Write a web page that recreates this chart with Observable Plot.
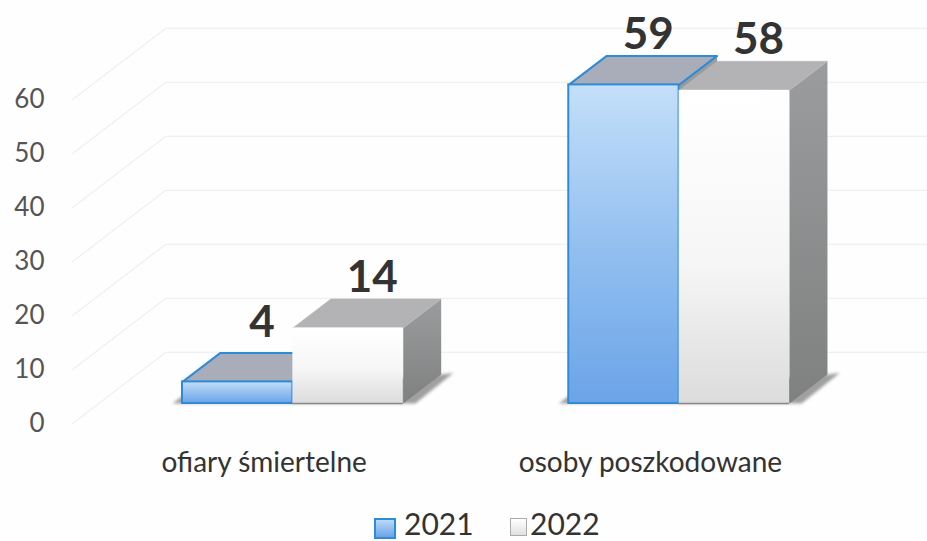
<!DOCTYPE html>
<html><head><meta charset="utf-8">
<script src="https://cdn.jsdelivr.net/npm/d3@7"></script>
<script src="https://cdn.jsdelivr.net/npm/@observablehq/plot@0.6"></script>
<style>
html,body{margin:0;padding:0;background:#fefefe;overflow:hidden}
#legend{font:30px Lato,sans-serif;color:#333;position:absolute;top:505px;left:0;width:927px;height:36px}
.sw{position:absolute;top:13px;width:22px;height:21px;box-sizing:border-box}
.lb{position:absolute;top:0;line-height:36px;height:36px}
</style></head><body>
<div id="chart"></div>
<div id="legend"></div>
<script>
const categories = ["ofiary śmiertelne", "osoby poszkodowane"];
const years = ["2021", "2022"];
const values2021 = [4, 59];
const values2022 = [14, 58];
const axisTicks = [0, 10, 20, 30, 40, 50, 60];

const step = 3.5, depthX = 0.344, depthY = 5.37;
const wallX0 = -0.995, wallX1 = -0.154, wallEnd = 6.8, wallY0 = -3.7, wallY1 = 9.45;
const rows = categories.flatMap((c, i) => [
  {c, i, s: 0, year: years[0], value: values2021[i], x1: i * step, x2: i * step + 1},
  {c, i, s: 1, year: years[1], value: values2022[i], x1: i * step + 1, x2: i * step + 2}
]);
const tops = d3.sort(rows, d => d.i, d => d.value);
const wall = axisTicks.flatMap(v => [
  {v, x: wallX0, y: v + wallY0}, {v, x: wallX1, y: v + wallY1}, {v, x: wallEnd, y: v + wallY1}
]);
const sideVerts = rows.flatMap(d => [[d.x2, 0], [d.x2, d.value], [d.x2 + depthX, d.value + depthY], [d.x2 + depthX, depthY]]
  .map(([x, y]) => ({k: d.c + d.year, x, y})));
const topVerts = d => [[d.x1, d.value], [d.x1 + depthX, d.value + depthY], [d.x2 + depthX, d.value + depthY], [d.x2, d.value], [d.x1, d.value]]
  .map(([x, y]) => ({x, y}));
const shadowVerts = categories.flatMap((c, i) => {
  const a = i * step, b = a + 2;
  return [[a - 0.09, 0], [a, 1.4], [b + depthX, depthY], [b + depthX + 0.11, depthY + 0.3], [b + 0.11, 0]].map(([x, y]) => ({c, x, y}));
});

const defs = (index, scales, values, dims, ctx) => {
  const g = d3.select(ctx.document.createElementNS("http://www.w3.org/2000/svg", "defs"));
  const grad = (id, stops) => {
    const l = g.append("linearGradient").attr("id", id).attr("x1", 0).attr("x2", 0).attr("y1", 0).attr("y2", 1);
    stops.forEach(([o, c]) => l.append("stop").attr("offset", o).attr("stop-color", c));
  };
  grad("g21", [[0, "#c4dff9"], [0.5, "#94c0f0"], [1, "#6ba4e8"]]);
  grad("g22", [[0, "#ffffff"], [0.55, "#f6f6f6"], [1, "#dcdcdc"]]);
  grad("side", [[0, "#9b9c9d"], [1, "#7f8080"]]);
  return g.node();
};

const plot = Plot.plot({
  width: 927, height: 505,
  marginLeft: 182, marginRight: 137, marginTop: 25, marginBottom: 102,
  x: {domain: [0, 5.5], range: [182, 789], axis: null},
  y: {domain: [0, 70], range: [403, 25], axis: null},
  style: {background: "transparent", fontFamily: "Lato, sans-serif", overflow: "visible"},
  marks: [
    defs,
    Plot.line(wall, {x: "x", y: "y", z: "v", stroke: "#f0f0f0", strokeWidth: 1.3}),
    Plot.line(shadowVerts, {x: "x", y: "y", z: "c", fill: "#a0a0a0", imageFilter: "blur(1.5px)"}),
    Plot.line(sideVerts, {x: "x", y: "y", z: "k", fill: "url(#side)"}),
    ...tops.map(d => Plot.line(topVerts(d), {
      x: "x", y: "y",
      fill: d.s === 0 ? "#a9adb9" : "#b3b3b5",
      stroke: d.s === 0 ? "#2e8bd8" : "#b3b3b5",
      strokeWidth: d.s === 0 ? 2 : 0.5
    })),
    Plot.rect(rows.filter(d => d.s === 0), {x1: "x1", x2: "x2", y1: 0, y2: "value", fill: "url(#g21)", stroke: "#2e8bd8", strokeWidth: 2}),
    Plot.rect(rows.filter(d => d.s === 1), {x1: "x1", x2: "x2", y1: 0, y2: "value", fill: "url(#g22)"}),
    Plot.ruleY(rows.filter(d => d.s === 1), {x1: "x1", x2: "x2", y: 0, stroke: "#8a8a8a", strokeWidth: 1.5}),
    Plot.axisY({ticks: axisTicks, anchor: "left", tickSize: 0, tickPadding: 0, label: null,
      tickFormat: d => String(d), dx: -138, dy: 20, fontSize: 26, color: "#555555"}),
    Plot.text(categories.map((c, i) => ({c, x: i * step + 0.74})), {
      x: "x", y: 0, text: "c", dy: 60, fontSize: 28, fill: "#333333"}),
    Plot.text(rows.filter(d => d.value !== 4), {
      x: d => d.x1 + 0.5 + 0.22, y: d => d.value + depthY, text: "value", dy: -21,
      fontSize: 44, fontWeight: 700, fill: "#333333"}),
    Plot.text(rows.filter(d => d.value === 4), {
      x: d => d.x1 + 0.5 + 0.22, y: d => d.value + depthY, text: "value", dy: -30,
      fontSize: 44, fontWeight: 700, fill: "#333333"})
  ]
});
document.getElementById("chart").append(plot);

const legend = d3.select("#legend");
[[374, 404, "linear-gradient(#bcd8f6,#6ba4e8)", "2px solid #2e8bd8", years[0]],
 [510, 530, "linear-gradient(#fff,#e0e0e0)", "1.5px solid #aaa", years[1]]].forEach(([sx, tx, bg, bd, t]) => {
  legend.append("div").attr("class", "sw").style("left", sx + "px").style("background", bg).style("border", bd)
    .style("width", sx === 510 ? "17px" : null).style("height", sx === 510 ? "18px" : null);
  legend.append("div").attr("class", "lb").style("left", tx + "px").text(t);
});
</script></body></html>
